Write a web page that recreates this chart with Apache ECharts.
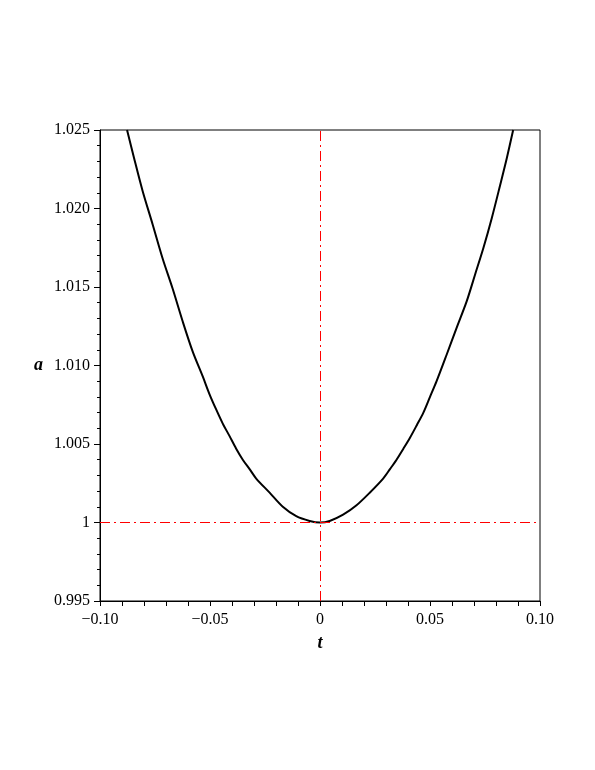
<!DOCTYPE html>
<html><head><meta charset="utf-8">
<script src="https://cdn.jsdelivr.net/npm/echarts@6/dist/echarts.min.js"></script>
<style>html,body{margin:0;padding:0;background:#fff}#c{width:595px;height:770px}</style>
</head><body><div id="c"></div>
<script>
var tValues = [-0.0877, -0.0845, -0.0806, -0.0761, -0.0715, -0.0670, -0.0624, -0.0579, -0.0533, -0.0503, -0.0472, -0.0442, -0.0411, -0.0381, -0.0351, -0.0320, -0.0290, -0.0229, -0.0169, -0.0108, -0.0047, 0.0000,
               0.0044, 0.0105, 0.0166, 0.0226, 0.0287, 0.0318, 0.0348, 0.0379, 0.0409, 0.0440, 0.0470, 0.0500, 0.0530, 0.0576, 0.0621, 0.0667, 0.0705, 0.0743, 0.0781, 0.0819, 0.0849, 0.0878];
var aValues = [1.0250, 1.0232, 1.0211, 1.0190, 1.0168, 1.0149, 1.0128, 1.0109, 1.0093, 1.0082, 1.0072, 1.0063, 1.0055, 1.0047, 1.0040, 1.0034, 1.0028, 1.0019, 1.0010, 1.0004, 1.0001, 1.0000,
               1.0001, 1.0005, 1.0011, 1.0019, 1.0028, 1.0034, 1.0040, 1.0047, 1.0054, 1.0062, 1.0070, 1.0080, 1.0090, 1.0107, 1.0124, 1.0141, 1.0158, 1.0175, 1.0194, 1.0215, 1.0232, 1.0250];
var xTicks = [-0.10, -0.05, 0, 0.05, 0.10];
var yTicks = [0.995, 1.000, 1.005, 1.010, 1.015, 1.020, 1.025];
var refT = 0;
var refA = 1;

var data = tValues.map(function (t, i) { return [t, aValues[i]]; });
var font = '"Liberation Serif", "DejaVu Serif", serif';
var chart = echarts.init(document.getElementById('c'), null, {renderer: 'canvas'});
chart.setOption({
  animation: false,
  backgroundColor: '#fff',
  grid: {left: 100, right: 55, top: 130, bottom: 169, show: true, borderColor: '#000', borderWidth: 1, backgroundColor: 'transparent'},
  xAxis: {
    type: 'value', min: xTicks[0], max: xTicks[xTicks.length - 1], interval: 0.05,
    name: 't', nameLocation: 'middle', nameGap: 33,
    nameTextStyle: {fontFamily: font, fontSize: 18, fontWeight: 'bold', fontStyle: 'italic', color: '#000'},
    axisLine: {show: true, onZero: false, lineStyle: {color: '#000', width: 1}},
    axisTick: {show: true, length: 5, lineStyle: {color: '#000'}},
    minorTick: {show: true, splitNumber: 5, length: 5, lineStyle: {color: '#000'}},
    splitLine: {show: false},
    axisLabel: {fontFamily: font, fontSize: 16, color: '#000', margin: 11,
      formatter: function (v) { if (Math.abs(v) < 1e-9) return '0'; return (v < 0 ? '\u2212' : '') + Math.abs(v).toFixed(2); }}
  },
  yAxis: {
    type: 'value', min: yTicks[0], max: yTicks[yTicks.length - 1], interval: 0.005,
    name: 'a', nameLocation: 'middle', nameGap: 57, nameRotate: 0,
    nameTextStyle: {fontFamily: font, fontSize: 18, fontWeight: 'bold', fontStyle: 'italic', color: '#000', padding: [6, 0, 0, 0]},
    axisLine: {show: true, onZero: false, lineStyle: {color: '#000', width: 1}},
    axisTick: {show: true, length: 6, lineStyle: {color: '#000'}},
    minorTick: {show: true, splitNumber: 5, length: 3, lineStyle: {color: '#000'}},
    splitLine: {show: false},
    axisLabel: {fontFamily: font, fontSize: 16, color: '#000', margin: 10,
      formatter: function (v) { if (Math.abs(v - 1) < 1e-9) return '1'; return v.toFixed(3); }}
  },
  series: [{
    type: 'line', data: data, showSymbol: false, smooth: 0.3, clip: true,
    lineStyle: {color: '#000', width: 2},
    markLine: {
      silent: true, symbol: ['none', 'none'], label: {show: false},
      lineStyle: {color: '#ff0000', width: 1, type: [10, 4, 2, 4]},
      data: [{xAxis: refT}, {yAxis: refA}]
    }
  }]
});
</script></body></html>
